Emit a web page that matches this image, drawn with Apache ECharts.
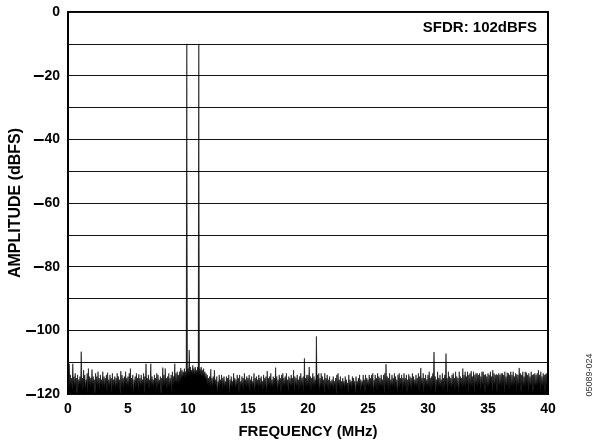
<!DOCTYPE html>
<html>
<head>
<meta charset="utf-8">
<script src="https://cdn.jsdelivr.net/npm/echarts@6/dist/echarts.min.js"></script>
<style>
html,body{margin:0;padding:0;background:#fff;}
#chart{width:597px;height:446px;}
</style>
</head>
<body>
<div id="chart"></div>
<script>
// ---- data ----
var binWidthMHz = 0.05;          // FFT bin spacing (MHz)
var xTickValues = [0, 5, 10, 15, 20, 25, 30, 35, 40];
var yLabelValues = [0, -20, -40, -60, -80, -100, -120];
var sfdrText = 'SFDR: 102dBFS';
var plotId = '05089-024';
// amplitude (dBFS), one row per MHz (20 bins each), last value = 40 MHz
var amplitudeDbfs = [
-112.5,-117,-110.5,-118,-114,-117.5,-115,-119,-110.5,-117,-114.5,-118,-113.5,-117.5,-115,-121,-114,-118,-115.5,-117,
-114.5,-118,-106.7,-117.5,-115,-119,-112.5,-117,-114,-118.5,-115.5,-117,-113.5,-120,-112,-117.5,-114.5,-118,-115,-117,
-112.3,-118,-114.5,-117.5,-115.5,-121,-113.5,-117,-114.5,-118,-113,-117.5,-115,-119,-114,-117,-115.5,-118,-113,-117.5,
-114.5,-118,-115,-117,-114,-119.5,-113.3,-117.5,-115.5,-118,-114,-117,-115,-120,-113.5,-118,-115.5,-117,-114.5,-118.5,
-115,-117.5,-113.5,-118,-114.5,-117,-115.5,-121,-112.8,-118,-114,-117.5,-115,-118.5,-114.5,-117,-113,-118,-115,-117.5,
-114.5,-118,-113.5,-117,-112,-118.5,-115,-117.5,-114,-120,-115.5,-117,-114.5,-118,-113.5,-117.5,-115,-119,-113.8,-117,
-115,-118,-114,-117.5,-115.5,-117,-113.5,-120.5,-114.5,-118,-110.5,-117.5,-115,-117,-114,-118.5,-115.5,-117,-110.5,-118,
-114.5,-117.5,-115.5,-118,-114,-117,-115,-119,-113.5,-118,-114,-117.5,-115.5,-117,-114.5,-121,-115,-118,-111.7,-117.5,
-114,-118,-112,-117,-115,-118.5,-114.5,-117.5,-113.5,-118,-115,-117,-114,-120,-113,-117.5,-114.5,-116.5,-110.5,-117,
-113.5,-117,-113,-116.5,-114,-117,-113,-116,-111.8,-115.5,-112.5,-115,-113,-114.5,-112,-115,-113,-114.5,-10,-114,
-112,-114.5,-106.2,-114,-111.5,-113.5,-112.5,-114,-111,-113.5,-112,-114.5,-111.5,-113.5,-112.5,-114,-111.5,-114.5,-10,-114,
-112,-114,-111.5,-114.5,-112.5,-115,-112,-115,-113,-115.5,-113.5,-116,-114,-117,-115,-117.5,-114.5,-118,-112.2,-117.5,
-115,-118,-114.5,-117,-112.5,-117.5,-115.5,-118,-114.5,-120,-116,-117.5,-114,-118,-115.5,-117,-114,-119,-115,-117.5,
-114.5,-118,-116,-117.5,-114.5,-118.5,-115,-117,-114,-121,-115.5,-118,-114.5,-117.5,-116,-118,-113.5,-117,-115,-118.5,
-115.5,-118,-114,-117.5,-115,-120,-114,-118,-116,-117.5,-114.5,-118,-115,-119,-113.5,-117.5,-115.5,-118,-114.5,-117.5,
-115,-118,-114,-119.5,-115.5,-117.5,-114.5,-118,-116,-117.5,-113.5,-120,-115,-118,-114.5,-117.5,-115.5,-118,-114,-117.5,
-115,-118,-114.5,-117.5,-116,-119,-114,-118,-115,-117.5,-114.5,-120.5,-112.8,-118,-115,-117.5,-114.5,-118,-113.5,-117.5,
-115.5,-118,-114.5,-117.5,-115,-118,-111.7,-117.5,-114.5,-119,-115.5,-118,-114,-117.5,-115,-120,-114,-118,-113.5,-117.5,
-115,-118,-114.5,-117.5,-113.5,-118,-115.5,-119.5,-114.5,-117.5,-115,-118,-114,-117.5,-115,-118,-112.5,-120,-114.5,-117.5,
-115,-118,-114,-117.5,-115.5,-119,-114.5,-118,-113.5,-117.5,-115,-118,-114.5,-120,-108.8,-118,-115,-117.5,-114,-118,
-114,-117.5,-111.5,-118,-114.5,-119,-115,-117.5,-113.5,-118,-114.5,-117.5,-115.5,-118,-101.9,-117.5,-114,-118,-113.5,-119.5,
-115,-118,-113.5,-117.5,-114.5,-118,-115.5,-120,-113.5,-118,-115,-117.5,-114,-118,-115.5,-119,-114.5,-118,-116,-117.5,
-115.5,-118,-114.5,-118.5,-116,-117.5,-115,-121,-114,-118,-113.5,-117.5,-115.5,-118,-114.5,-119,-116,-118,-115,-117.5,
-116,-118.5,-114.5,-117.5,-115.5,-118,-116.5,-120,-114,-118,-115.5,-117.5,-116,-118.5,-114.5,-118,-115,-117.5,-116,-121,
-114.5,-118,-116,-117.5,-115,-118,-114,-119.5,-115.5,-118,-116,-117.5,-114,-118,-115.5,-120,-114,-118,-115,-117.5,
-115.5,-118,-114,-117.5,-115,-118.5,-114,-118,-113.5,-120,-115.5,-117.5,-114,-118,-115,-119,-113.5,-118,-114.5,-117.5,
-115,-118,-114,-117.5,-115.5,-118,-114,-120.5,-113.5,-118,-110.6,-117.5,-114.5,-118,-115,-119,-113.5,-118,-115.5,-117.5,
-114,-118,-115,-117.5,-113.5,-118.5,-114.5,-118,-115.5,-120,-114,-117.5,-113.5,-118,-115,-117.5,-114,-119,-115,-118,
-113.5,-117.5,-115,-118,-114,-120,-115.5,-118,-113.8,-117.5,-114.5,-118,-115,-119,-113.5,-117.5,-114.5,-118,-115.5,-117.5,
-114,-118,-115,-117.5,-113.5,-119.5,-114.5,-118,-111.8,-117.5,-115,-118,-113.5,-120,-115,-118,-114,-117.5,-115.5,-118,
-114,-117.5,-113,-118,-115,-119,-114.5,-118,-113.5,-117.5,-106.8,-118,-114.5,-120,-115.5,-118,-113,-117.5,-115,-118,
-114,-118,-115.5,-117.5,-113.5,-119,-115,-118,-114,-117.5,-107.3,-118,-115,-120,-113,-118,-114.5,-117.5,-115,-118.5,
-114,-118,-113.5,-117.5,-115,-119,-113,-118,-114.5,-117.5,-115,-120,-113,-118,-114.5,-117.5,-115,-118,-112,-118,
-114,-117.5,-113,-118,-114.5,-117,-113,-119.5,-114,-117.5,-113.5,-118,-112.8,-117.5,-114.5,-118,-113,-120,-114,-117.5,
-113.5,-117.5,-113.5,-118,-114,-117,-113.5,-119,-114.5,-117.5,-113,-118,-113,-117.5,-114,-120,-113.8,-117.5,-114.5,-118,
-113.5,-118,-114,-117.5,-113,-117,-114.5,-119.5,-112.5,-117.5,-113.5,-118,-114,-117,-113.8,-120,-114,-117.5,-113.5,-118,
-114,-117.5,-113.5,-118,-113.5,-117,-114,-120,-113,-117.5,-114.5,-118,-113.3,-117.5,-113.5,-119,-114,-117.5,-113,-118,
-114,-117.5,-113,-118,-114.5,-117,-113.5,-119,-113.8,-117.5,-114,-118,-111.8,-117.5,-113.5,-120,-114,-117.5,-113,-118,
-114.5,-117.5,-113,-118,-113.3,-117,-114,-119.5,-113.5,-117.5,-114.5,-118,-113,-117.5,-114,-120,-113.8,-117.5,-113.5,-118,
-114,-117.5,-113.5,-118,-112.5,-117,-114,-119,-113,-117.5,-114.5,-118,-113.5,-117.5,-114,-120,-113.8,-117.5,-113.5,-118,
-114
];

// ---- chart ----
var FONT = "'Liberation Sans', Arial, Helvetica, sans-serif";
var seriesData = amplitudeDbfs.map(function (v, i) {
  return [+(i * binWidthMHz).toFixed(2), v];
});

var chart = echarts.init(document.getElementById('chart'), null, {renderer: 'canvas'});
chart.setOption({
  animation: false,
  backgroundColor: '#fff',
  grid: {
    left: 68, right: 49, top: 12, bottom: 52,
    containLabel: false, outerBoundsMode: 'none',
    show: true, borderColor: '#000', borderWidth: 2, backgroundColor: 'transparent'
  },
  xAxis: {
    type: 'value',
    min: xTickValues[0], max: xTickValues[xTickValues.length - 1], interval: 5,
    name: 'FREQUENCY (MHz)', nameLocation: 'middle', nameGap: 30,
    nameTextStyle: {fontFamily: FONT, fontWeight: 'bold', fontSize: 15, color: '#000'},
    axisLine: {show: false},
    axisTick: {show: false},
    splitLine: {show: false},
    axisLabel: {
      margin: 8, fontFamily: FONT, fontWeight: 'bold', fontSize: 14, color: '#000',
      customValues: xTickValues
    }
  },
  yAxis: {
    type: 'value',
    min: -120, max: 0, interval: 10,
    name: 'AMPLITUDE (dBFS)', nameLocation: 'middle', nameGap: 44,
    nameMoveOverlap: false,
    nameTextStyle: {fontFamily: FONT, fontWeight: 'bold', fontSize: 16, color: '#000'},
    axisLine: {show: false},
    axisTick: {show: false},
    splitLine: {show: true, lineStyle: {color: '#111', width: 1}},
    axisLabel: {
      margin: 8, fontFamily: FONT, fontWeight: 'bold', fontSize: 14, color: '#000',
      formatter: function (v) {
        if (yLabelValues.indexOf(v) < 0) return '';
        return v === 0 ? '{n|0}' : '{d|\u2013}{n|' + Math.abs(v) + '}';
      },
      rich: {
        d: {fontFamily: FONT, fontWeight: 'bold', fontSize: 20, color: '#000'},
        n: {fontFamily: FONT, fontWeight: 'bold', fontSize: 14, color: '#000'}
      }
    }
  },
  series: [{
    type: 'line',
    data: seriesData,
    showSymbol: false,
    symbol: 'none',
    clip: true,
    sampling: null,
    lineStyle: {color: '#000', width: 0.6},
    areaStyle: {color: '#000', opacity: 1, origin: 'start'},
    silent: true
  }],
  graphic: [
    {
      type: 'text', x: 537, y: 28,
      style: {text: sfdrText, fill: '#000', font: 'bold 15px ' + FONT, align: 'right', verticalAlign: 'middle'}
    },
    {
      type: 'text', x: 590, y: 375, rotation: Math.PI / 2,
      style: {text: plotId, fill: '#333', font: '9px ' + FONT, align: 'center', verticalAlign: 'middle'}
    }
  ]
});
</script>
</body>
</html>
